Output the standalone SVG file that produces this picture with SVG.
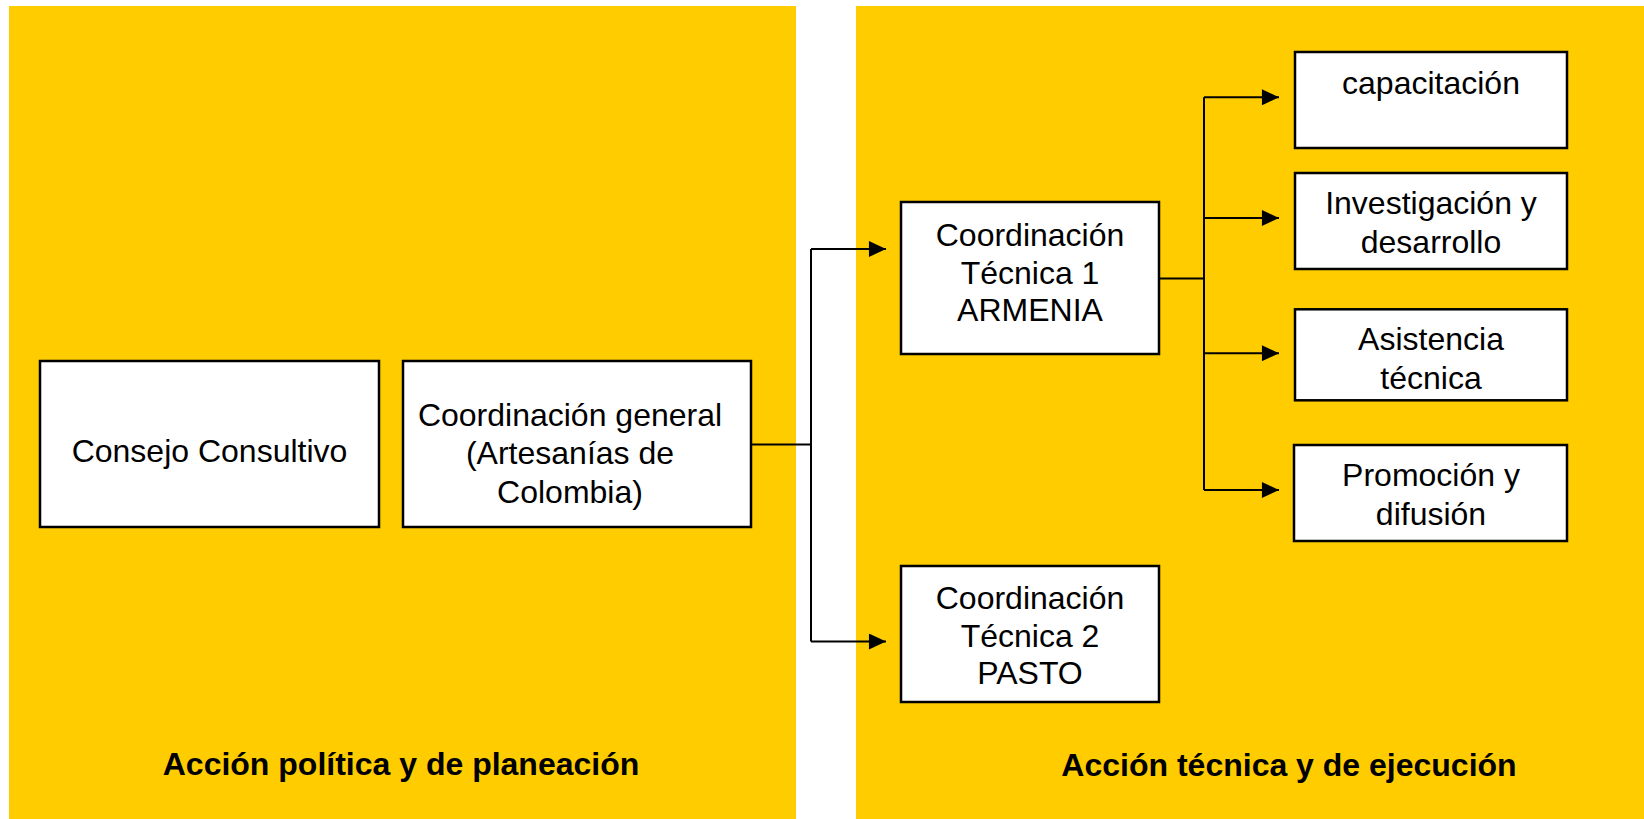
<svg xmlns="http://www.w3.org/2000/svg" width="1644" height="819" viewBox="0 0 1644 819">
<style>
.panel{fill:#FFCC00;stroke:none}
.box{fill:#FFFFFF;stroke:#000000;stroke-width:2.5}
.lbl{font-family:"Liberation Sans",Arial,sans-serif;font-size:32px;fill:#000000;text-anchor:middle}
.ttl{font-family:"Liberation Sans",Arial,sans-serif;font-size:32px;font-weight:bold;fill:#000000;text-anchor:middle}
.conn{fill:none;stroke:#000000;stroke-width:2}
</style>
<defs>
<marker id="arr" markerUnits="userSpaceOnUse" markerWidth="18" markerHeight="16" viewBox="0 0 16 15" refX="16" refY="7.5" orient="auto">
<path d="M0,0 L16,7.5 L0,15 Z" fill="#000000"/>
</marker>
</defs>
<rect width="1644" height="819" fill="#FFFFFF"/>
<g id="panel-left">
<rect class="panel" x="9" y="6" width="787" height="813"/>
<text class="ttl" x="401" y="775">Acción política y de planeación</text>
</g>
<g id="panel-right">
<rect class="panel" x="856" y="6" width="788" height="813"/>
<text class="ttl" x="1289" y="776">Acción técnica y de ejecución</text>
</g>
<g id="connectors">
<path class="conn" d="M751,444.5 H811"/>
<path class="conn" d="M811,249 V641.5"/>
<path class="conn" d="M811,249 H886" marker-end="url(#arr)"/>
<path class="conn" d="M811,641.5 H886" marker-end="url(#arr)"/>
<path class="conn" d="M1159,278.5 H1204"/>
<path class="conn" d="M1204,97.3 V490"/>
<path class="conn" d="M1204,97.3 H1279" marker-end="url(#arr)"/>
<path class="conn" d="M1204,218 H1279" marker-end="url(#arr)"/>
<path class="conn" d="M1204,353.2 H1279" marker-end="url(#arr)"/>
<path class="conn" d="M1204,490 H1279" marker-end="url(#arr)"/>
</g>
<g id="consejo-consultivo">
<rect class="box" x="40" y="361" width="339" height="166"/>
<text class="lbl" x="209.5" y="462">Consejo Consultivo</text>
</g>
<g id="coordinacion-general">
<rect class="box" x="403" y="361" width="348" height="166"/>
<text class="lbl" x="570" y="425.7">Coordinación general</text>
<text class="lbl" x="570" y="464">(Artesanías de</text>
<text class="lbl" x="570" y="502.5">Colombia)</text>
</g>
<g id="coordinacion-tecnica-1">
<rect class="box" x="901" y="202" width="258" height="152"/>
<text class="lbl" x="1030" y="245.6">Coordinación</text>
<text class="lbl" x="1030" y="283.7">Técnica 1</text>
<text class="lbl" x="1030" y="320.8">ARMENIA</text>
</g>
<g id="coordinacion-tecnica-2">
<rect class="box" x="901" y="566" width="258" height="136"/>
<text class="lbl" x="1030" y="608.7">Coordinación</text>
<text class="lbl" x="1030" y="646.8">Técnica 2</text>
<text class="lbl" x="1030" y="684.4">PASTO</text>
</g>
<g id="capacitacion">
<rect class="box" x="1295" y="52" width="272" height="96"/>
<text class="lbl" x="1431" y="94">capacitación</text>
</g>
<g id="investigacion">
<rect class="box" x="1295" y="173" width="272" height="96"/>
<text class="lbl" x="1431" y="214.2">Investigación y</text>
<text class="lbl" x="1431" y="253.4">desarrollo</text>
</g>
<g id="asistencia">
<rect class="box" x="1295" y="309.3" width="272" height="91"/>
<text class="lbl" x="1431" y="350">Asistencia</text>
<text class="lbl" x="1431" y="389.2">técnica</text>
</g>
<g id="promocion">
<rect class="box" x="1294" y="445" width="273" height="96"/>
<text class="lbl" x="1431" y="485.9">Promoción y</text>
<text class="lbl" x="1431" y="525">difusión</text>
</g>
</svg>
